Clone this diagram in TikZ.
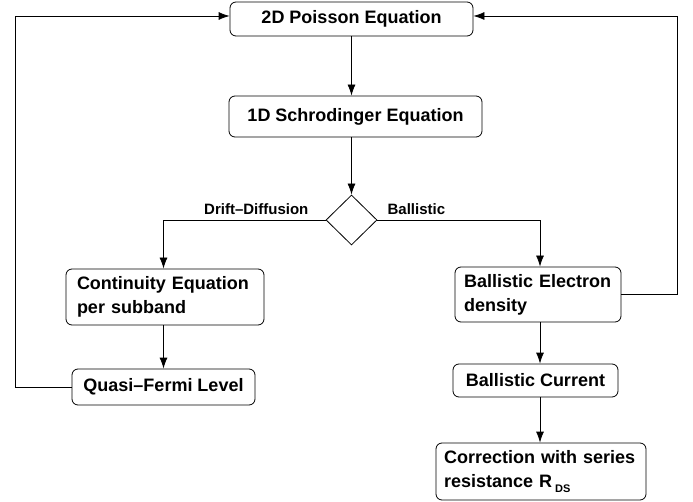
\documentclass[tikz,border=0pt]{standalone}
\usepackage{fontspec}
\setmainfont{Liberation Sans}
\usepackage{tikz}
\usetikzlibrary{arrows.meta,shapes.geometric,positioning,calc}
\tikzset{
    sim-box/.style={
        rectangle,
        rounded corners=6pt,
        draw=black,
        line width=0.8pt,
        font=\fontsize{18}{24}\selectfont\bfseries,
        inner sep=0pt
    },
    sim-box-left/.style={
        sim-box,
        align=left
    },
    sim-choice/.style={
        diamond,
        draw=black,
        line width=0.8pt,
        minimum width=51pt,
        minimum height=50pt,
        inner sep=0pt
    },
    sim-label/.style={
        font=\fontsize{15}{18}\selectfont\bfseries,
        inner sep=0pt
    },
    sim-arrow/.style={
        draw,
        line width=0.8pt,
        -{Latex[length=11pt,width=8pt]}
    },
}

\begin{document}
\begin{tikzpicture}[x=1pt,y=-1pt]
        \useasboundingbox (0,0) rectangle (693,502);
        \node [sim-box,minimum width=243pt,minimum height=34pt] (poisson) at (351.5,19) {2D Poisson Equation};
        \node [sim-box,minimum width=253pt,minimum height=41pt] (schro) at (355.5,116.5) {1D Schrodinger Equation};
        \node [sim-choice] (fork) at (351.5,220) {};
        \node [sim-box-left,text width=176pt,inner xsep=11pt,minimum height=56pt] (cont) at (165,297) {Continuity Equation\\per subband};
        \node [sim-box,minimum width=183pt,minimum height=36pt] (qfl) at (163.5,387) {Quasi--Fermi Level};
        \node [sim-box-left,text width=148pt,inner xsep=9pt,minimum height=55pt] (bed) at (538,294.5) {Ballistic Electron\\density};
        \node [sim-box,minimum width=165pt,minimum height=33pt] (bcur) at (535.5,380.5) {Ballistic Current};
        \node [sim-box-left,text width=194pt,inner xsep=8pt,minimum height=57pt] (rds) at (541,471.5) {Correction with series\\resistance R\,\raisebox{-5pt}{\fontsize{11}{11}\selectfont DS}};
        \node [sim-label,anchor=base east] (dd-lbl) at ([xshift=-17pt,yshift=5.5pt]fork.west) {Drift--Diffusion};
        \node [sim-label,anchor=base west] (bal-lbl) at ([xshift=10pt,yshift=5.5pt]fork.east) {Ballistic};
        \coordinate (lft) at (15,0);
        \coordinate (rgt) at (677,0);
        \coordinate (rcol) at (540,0);
        \draw [sim-arrow] (poisson.south -| fork) -- (schro.north -| fork);
        \draw [sim-arrow] (schro.south -| fork) -- (fork.north);
        \draw [sim-arrow] (fork.west) -| (cont.north -| qfl);
        \draw [sim-arrow] (fork.east) -| (bed.north -| rcol);
        \draw [sim-arrow] (cont.south -| qfl) -- (qfl.north);
        \draw [sim-arrow] (bed.south -| rcol) -- (bcur.north -| rcol);
        \draw [sim-arrow] (bcur.south -| rcol) -- (rds.north -| rcol);
        \draw [sim-arrow] (qfl.west) -- (qfl.west -| lft) |- ([yshift=3pt]poisson.west);
        \draw [sim-arrow] (bed.east) -- (bed.east -| rgt) |- ([yshift=3pt]poisson.east);
    \end{tikzpicture}
\end{document}
